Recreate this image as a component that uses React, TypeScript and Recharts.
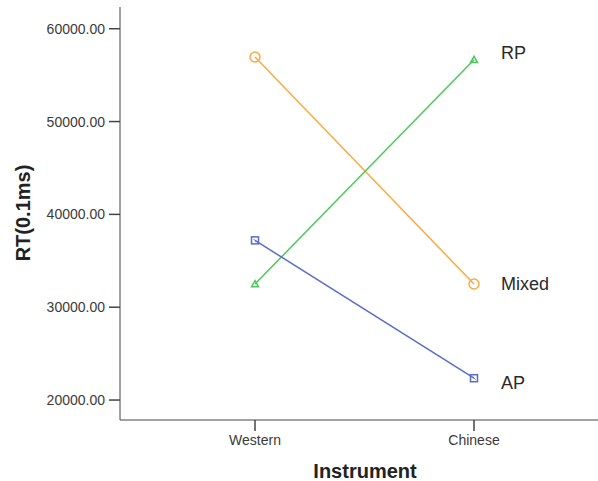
import React from "react";
import { LineChart, Line, XAxis, YAxis, LabelList } from "recharts";

const categories = ["Western", "Chinese"];
const mixedValues = [56950, 32500];
const rpValues = [32500, 56650];
const apValues = [37200, 22350];
const yTicks = [20000, 30000, 40000, 50000, 60000];

const data = categories.map((c, i) => ({
  instrument: c,
  Mixed: mixedValues[i],
  RP: rpValues[i],
  AP: apValues[i],
}));

const FONT = "'Liberation Sans', Arial, sans-serif";
const ORANGE = "#FBAA3F";
const GREEN = "#4DC95B";
const BLUE = "#5A6CC9";
const AXIS = "#444444";

const CircleDot = (props: any) => {
  const { cx, cy } = props;
  if (cx == null || cy == null) return null;
  return <circle cx={cx} cy={cy} r={5} fill="none" stroke={ORANGE} strokeWidth={1.5} />;
};
const TriDot = (props: any) => {
  const { cx, cy } = props;
  if (cx == null || cy == null) return null;
  const s = 3.5;
  return (
    <polygon
      points={`${cx},${cy - s} ${cx - s},${cy + s * 0.8} ${cx + s},${cy + s * 0.8}`}
      fill="none"
      stroke={GREEN}
      strokeWidth={1.5}
    />
  );
};
const SquareDot = (props: any) => {
  const { cx, cy } = props;
  if (cx == null || cy == null) return null;
  return (
    <g>
      <rect x={cx - 3.5} y={cy - 3.5} width={7} height={7} fill="none" stroke={BLUE} strokeWidth={1.5} />
      <line x1={cx - 1.5} y1={cy - 1.5} x2={cx + 1.5} y2={cy + 1.5} stroke={BLUE} strokeWidth={1} />
    </g>
  );
};

const endLabel = (name: string, dy: number) => (props: any) => {
  const { x, y, index } = props;
  if (index !== categories.length - 1) return null;
  return (
    <text x={x + 27} y={y + dy} fontSize={18} fontFamily={FONT} fill="#2a2a2a">
      {name}
    </text>
  );
};

export default function App() {
  return (
    <div style={{ position: "absolute", left: 0, top: 0, background: "#fff" }}>
      <LineChart
        width={598}
        height={481}
        data={data}
        margin={{ top: 7, right: 0, bottom: 0, left: 0 }}
      >
        <XAxis
          xAxisId="top"
          orientation="top"
          dataKey="instrument"
          height={0}
          tick={false}
          tickLine={false}
          axisLine={{ stroke: AXIS, strokeWidth: 1 }}
          padding={{ left: 135, right: 124 }}
        />
        <XAxis
          dataKey="instrument"
          height={61}
          padding={{ left: 135, right: 124 }}
          tickSize={11}
          tickMargin={4}
          axisLine={{ stroke: AXIS, strokeWidth: 1 }}
          tickLine={{ stroke: AXIS, strokeWidth: 1.5 }}
          tick={{ fontSize: 14, fontFamily: FONT, fill: "#3a3a3a" }}
          label={{
            content: () => (
              <text
                x={365}
                y={478}
                textAnchor="middle"
                fontSize={20}
                fontWeight="bold"
                fontFamily={FONT}
                fill="#222"
              >
                Instrument
              </text>
            ),
          }}
        />
        <YAxis
          width={120}
          domain={[17850, 62340]}
          ticks={yTicks}
          allowDataOverflow
          tickFormatter={(v: number) => v.toFixed(2)}
          tickSize={11}
          tickMargin={4}
          axisLine={{ stroke: AXIS, strokeWidth: 1 }}
          tickLine={{ stroke: AXIS, strokeWidth: 1.5 }}
          tick={{ fontSize: 14, fontFamily: FONT, fill: "#3a3a3a" }}
          label={{
            content: () => (
              <text
                x={30}
                y={213}
                transform="rotate(-90, 30, 213)"
                textAnchor="middle"
                fontSize={20}
                fontWeight="bold"
                fontFamily={FONT}
                fill="#222"
              >
                RT(0.1ms)
              </text>
            ),
          }}
        />
        <Line
          xAxisId={0}
          dataKey="Mixed"
          stroke={ORANGE}
          strokeWidth={1.5}
          dot={<CircleDot />}
          activeDot={false}
          isAnimationActive={false}
        >
          <LabelList dataKey="Mixed" content={endLabel("Mixed", 6)} />
        </Line>
        <Line
          xAxisId={0}
          dataKey="RP"
          stroke={GREEN}
          strokeWidth={1.5}
          dot={<TriDot />}
          activeDot={false}
          isAnimationActive={false}
        >
          <LabelList dataKey="RP" content={endLabel("RP", -1)} />
        </Line>
        <Line
          xAxisId={0}
          dataKey="AP"
          stroke={BLUE}
          strokeWidth={1.5}
          dot={<SquareDot />}
          activeDot={false}
          isAnimationActive={false}
        >
          <LabelList dataKey="AP" content={endLabel("AP", 11)} />
        </Line>
      </LineChart>
    </div>
  );
}
